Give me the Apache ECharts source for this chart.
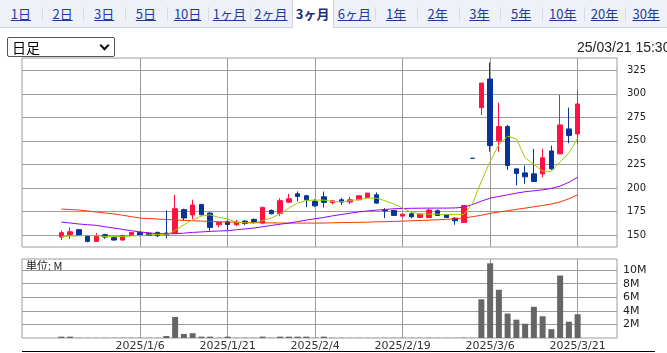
<!DOCTYPE html>
<html>
<head>
<meta charset="utf-8">
<script src="https://cdn.jsdelivr.net/npm/echarts@6/dist/echarts.min.js"></script>
<style>
html, body { margin: 0; padding: 0; width: 667px; height: 353px; overflow: hidden; background: #fff; }
#tabs { position: absolute; left: 0; top: 0; width: 667px; height: 27px; background: #eef1f8; border-bottom: 1px solid #cdd2dd; display: flex; z-index: 2; }
#tabs a { box-sizing: border-box; width: 41.69px; text-align: center; font: 13px "Noto Sans CJK JP", sans-serif; line-height: 27px; color: #1f3a9a; text-decoration: underline; position: relative; white-space: nowrap; }
#tabs a + a::before { content: ''; position: absolute; left: 0; top: 7px; height: 14px; border-left: 1px solid #d6dae4; }
#tabs a.on { background: #fff; font-weight: bold; text-decoration: none; color: #1b2d7c; border-left: 1px solid #cdd2dd; border-right: 1px solid #cdd2dd; height: 28px; }
#tabs a.on::before, #tabs a.on + a::before { display: none; }
#ashi { position: absolute; left: 7px; top: 37px; width: 108px; height: 20px; box-sizing: border-box; border: 1px solid #555; border-radius: 2px; font: 14px "Noto Sans CJK JP", sans-serif; line-height: 18px; padding-left: 4px; z-index: 2; }
#ashi::after { content: ''; position: absolute; right: 6px; top: 4px; width: 5px; height: 5px; border-right: 2px solid #111; border-bottom: 2px solid #111; transform: rotate(45deg); }
#stamp { position: absolute; left: 577px; top: 39px; font: 14px "Liberation Sans", Arial, sans-serif; color: #222; white-space: nowrap; z-index: 2; }
#foot { position: absolute; left: 22px; top: 351px; width: 633px; height: 1px; background: #000; z-index: 2; }
#chart { position: absolute; left: 0; top: 0; width: 667px; height: 353px; }
</style>
</head>
<body>
<div id="tabs"></div>
<div id="ashi">日足</div>
<div id="stamp">25/03/21 15:30</div>
<div id="chart"></div>
<div id="foot"></div>
<script>
// 期間タブ
const tabNames = ['1日', '2日', '3日', '5日', '10日', '1ヶ月', '2ヶ月', '3ヶ月', '6ヶ月', '1年', '2年', '3年', '5年', '10年', '20年', '30年']
const activeTab = '3ヶ月'

// 日付（営業日）
const dates = [
  '2024/12/18', '2024/12/19', '2024/12/20', '2024/12/23', '2024/12/24', '2024/12/25', '2024/12/26', '2024/12/27', '2024/12/30',
  '2025/1/6', '2025/1/7', '2025/1/8', '2025/1/9', '2025/1/10', '2025/1/14', '2025/1/15', '2025/1/16', '2025/1/17', '2025/1/20', '2025/1/21',
  '2025/1/22', '2025/1/23', '2025/1/24', '2025/1/27', '2025/1/28', '2025/1/29', '2025/1/30', '2025/1/31', '2025/2/3', '2025/2/4',
  '2025/2/5', '2025/2/6', '2025/2/7', '2025/2/10', '2025/2/12', '2025/2/13', '2025/2/14', '2025/2/17', '2025/2/18', '2025/2/19',
  '2025/2/20', '2025/2/21', '2025/2/25', '2025/2/26', '2025/2/27', '2025/2/28', '2025/3/3', '2025/3/4', '2025/3/5', '2025/3/6',
  '2025/3/7', '2025/3/10', '2025/3/11', '2025/3/12', '2025/3/13', '2025/3/14', '2025/3/17', '2025/3/18', '2025/3/19', '2025/3/21'
]
// 左右の余白分の日付
const padBefore = ['2024/12/12', '2024/12/13', '2024/12/16', '2024/12/17']
const padAfter = ['2025/3/24', '2025/3/25', '2025/3/26', '2025/3/27']

// 四本値
const opens = [147.9, 150.4, 155.7, 149.6, 143.3, 150.4, 147.2, 144.7, 149.6,
  152.8, 151.8, 152.8, 152.1, 152.1, 177, 171.3, 182.5, 173.3, 160.9, 164.1,
  160.9, 164.8, 166.6, 162.7, 176.1, 173, 184.9, 193.8, 191.7, 185.7,
  190.6, 184.4, 187.4, 185, 187.4, 189.9, 192.7, 176.5, 176.1, 170.1,
  172.5, 168.7, 168.7, 175.8, 171.9, 168, 163.4, 231.5, 285.3, 315.7,
  250, 265.2, 220.3, 216, 215, 215, 239.3, 236.2, 262.7, 257.4]
const closes = [152.5, 153.5, 149.6, 143.3, 149.3, 147.9, 144.7, 149.3, 152.8,
  149.6, 149.6, 149.3, 150.3, 178, 168.1, 181.9, 171.5, 158.1, 163.4, 161.2,
  163.7, 162.3, 163.4, 179.3, 172.6, 186.5, 188.5, 191, 187.4, 181,
  184.6, 186.3, 185, 187.4, 191.7, 194.5, 183.9, 175.7, 170.8, 172.2,
  169.4, 172.2, 176.5, 170.8, 168.7, 165.2, 181.4, 231.4, 311.4, 245,
  265.2, 223.8, 215.3, 211.8, 206.9, 232, 220.3, 266.9, 255.6, 289.2]
const lows = [144.7, 145.7, 149.4, 142.2, 143, 146.1, 144, 144, 149.5,
  148.6, 148.9, 147.9, 146.4, 151.5, 165.3, 166.7, 171, 154.6, 158.1, 155.3,
  159.5, 160.6, 162.3, 161.6, 171.9, 170, 184, 185.7, 179.6, 180,
  179.3, 182.5, 182, 182.8, 187, 189.5, 183, 168, 170.5, 168.7,
  168, 168.5, 168, 170.1, 168.5, 160.9, 163, 231.4, 277.5, 238.6,
  238.6, 219.2, 202.6, 204.4, 206.9, 211.1, 219.2, 236.2, 247.5, 246.4]
const highs = [154.6, 158.2, 156, 150, 152.1, 151.4, 147.9, 150.4, 153,
  154, 152.8, 153.5, 176, 192.7, 178, 187.6, 183, 174.3, 163.4, 165.5,
  166.2, 165.9, 167.6, 180, 177.2, 189.2, 193.8, 196.3, 192.7, 188.1,
  196.2, 186.5, 189.5, 190.5, 192, 194.8, 195.2, 178.6, 176.5, 172.2,
  174, 172.5, 178.2, 177.2, 172, 168.7, 181.8, 231.5, 311.4, 333.3,
  290.4, 267, 220.3, 223.8, 241.5, 241.5, 245, 298.7, 285.3, 303.3]

// 移動平均（画面から読み取り）
const ma5 = [148.6, 148.8, 149.2, 149.5, 149.3, 148.5, 148.5, 148.3, 149, 149.5,
  150.2, 150.5, 150.3, 154.9, 160.9, 166.2, 170.1, 171.5, 168.7, 167.3,
  163.6, 163, 162.7, 165.5, 168, 172.6, 178.6, 183.9, 186.7, 187.1,
  187.1, 185.7, 185.3, 186.4, 187.8, 189.2, 189.2, 186.4, 183, 178.6,
  174.2, 172.4, 172.2, 172.2, 171.7, 171.9, 171.9, 184, 207, 228,
  246, 255, 252, 232, 225, 218, 217.5, 227.8, 237, 253]
const ma25 = [163.8, 162.8, 161.7, 161, 160.3, 158.8, 157.4, 156, 154.6, 153.2,
  152.3, 151.4, 151.4, 151.4, 152, 152.8, 153.3, 153.9, 154.3, 154.6,
  155.6, 156.5, 157.4, 158.8, 160.2, 161.5, 162.7, 164.3, 165.9, 167.3,
  168.7, 170.4, 171.8, 173.2, 174.6, 175.6, 176.4, 177.2, 177.9, 178.2,
  178.4, 178.5, 178.6, 178.6, 178.6, 178.8, 179.5, 182.5, 186, 189.2,
  191, 192.7, 194.5, 196, 197, 198, 199.5, 202, 206, 211.5]
const ma75 = [177.6, 177.1, 176.6, 175.5, 174.5, 173.4, 172.4, 171, 169.5, 168,
  167.5, 167, 166.5, 166, 165.6, 165.2, 164.8, 164.5, 164.1, 163.8,
  163.5, 163.3, 163.1, 163, 162.9, 162.8, 162.7, 162.7, 162.7, 162.7,
  162.8, 163, 163.2, 163.4, 163.5, 163.7, 164, 164.2, 164.5, 164.8,
  165.1, 165.5, 165.8, 166.2, 166.7, 167.3, 168, 169.5, 171, 173,
  174.5, 175.8, 177.3, 178.6, 180, 181.4, 183, 185.2, 188.5, 192.7]

// 出来高（百万株）
const volumes = [0.2, 0.2, 0.03, 0.03, 0.03, 0.03, 0.03, 0.03, 0.03, 0.03,
  0.03, 0.03, 0.3, 3.1, 0.6, 0.7, 0.2, 0.2, 0.03, 0.2,
  0.03, 0.03, 0.03, 0.2, 0.03, 0.2, 0.2, 0.2, 0.2, 0.03,
  0.2, 0.03, 0.03, 0.03, 0.03, 0.03, 0.03, 0.03, 0.03, 0.03,
  0.03, 0.03, 0.03, 0.03, 0.03, 0.03, 0.05, 0.02, 5.7, 11.0,
  7.1, 3.6, 2.7, 2.1, 4.6, 3.2, 1.3, 9.2, 2.4, 3.5]

// 目盛り
const dateTicks = ['2025/1/6', '2025/1/21', '2025/2/4', '2025/2/19', '2025/3/6', '2025/3/21']
const priceTicks = [150, 175, 200, 225, 250, 275, 300, 325]
const volumeTicks = [2, 4, 6, 8, 10]

// タブを作る
const tabs = document.getElementById('tabs')
tabNames.forEach(name => {
  const a = document.createElement('a')
  a.textContent = name
  if (name === activeTab) a.className = 'on'
  tabs.appendChild(a)
})

const cats = padBefore.concat(dates, padAfter)
const pad = arr => padBefore.map(() => '-').concat(arr, padAfter.map(() => '-'))
const candles = pad(dates.map((d, i) => [opens[i], closes[i], lows[i], highs[i]]))

const RED = '#ff1144'
const BLUE = '#08349a'
const GRID = '#9c9c9c'
const showTick = (i, v) => dateTicks.includes(v)

function xAxisFor(gridIndex, withLabel) {
  return {
    type: 'category',
    gridIndex,
    data: cats,
    boundaryGap: true,
    axisLine: { show: false },
    axisTick: { show: false },
    axisLabel: {
      show: withLabel,
      interval: showTick,
      color: '#333',
      fontFamily: 'DejaVu Sans',
      fontSize: 11,
      margin: 3
    },
    splitLine: { show: true, interval: showTick, alignWithLabel: true, lineStyle: { color: GRID, width: 1 } }
  }
}

const chart = echarts.init(document.getElementById('chart'))
chart.setOption({
  animation: false,
  grid: [
    { left: 22, top: 58, width: 595, height: 189, show: true, borderColor: GRID, borderWidth: 1 },
    { left: 22, top: 259, width: 595, height: 79, show: true, borderColor: GRID, borderWidth: 1 }
  ],
  xAxis: [xAxisFor(0, false), xAxisFor(1, true)],
  yAxis: [
    {
      gridIndex: 0,
      position: 'right',
      min: 137.3,
      max: 338,
      axisLine: { show: false },
      axisTick: { show: false, customValues: priceTicks },
      axisLabel: { customValues: priceTicks, color: '#222', fontFamily: 'DejaVu Sans', fontSize: 10, margin: 10 },
      splitLine: { lineStyle: { color: GRID, width: 1 } }
    },
    {
      gridIndex: 1,
      position: 'right',
      min: 0,
      max: 11.63,
      axisLine: { show: false },
      axisTick: { show: false, customValues: volumeTicks },
      axisLabel: { customValues: volumeTicks, formatter: v => v + 'M', color: '#222', fontFamily: 'DejaVu Sans', fontSize: 11, margin: 6 },
      splitLine: { lineStyle: { color: GRID, width: 1 } }
    }
  ],
  graphic: [
    { type: 'text', left: 26, top: 260, style: { text: '単位: M', fill: '#222', font: '11px "Noto Sans CJK JP"' } }
  ],
  series: [
    {
      type: 'candlestick',
      xAxisIndex: 0,
      yAxisIndex: 0,
      barWidth: 5,
      data: candles,
      itemStyle: { color: RED, color0: BLUE, borderColor: RED, borderColor0: BLUE, borderWidth: 1 }
    },
    { type: 'line', xAxisIndex: 0, yAxisIndex: 0, data: pad(ma75), symbol: 'none', lineStyle: { color: '#ff3300', width: 1 } },
    { type: 'line', xAxisIndex: 0, yAxisIndex: 0, data: pad(ma25), symbol: 'none', lineStyle: { color: '#9900ff', width: 1 } },
    { type: 'line', xAxisIndex: 0, yAxisIndex: 0, data: pad(ma5), symbol: 'none', lineStyle: { color: '#99cc00', width: 1 } },
    {
      type: 'bar',
      xAxisIndex: 1,
      yAxisIndex: 1,
      barWidth: 6,
      data: pad(volumes),
      itemStyle: { color: '#666' }
    }
  ]
})
</script>
</body>
</html>
